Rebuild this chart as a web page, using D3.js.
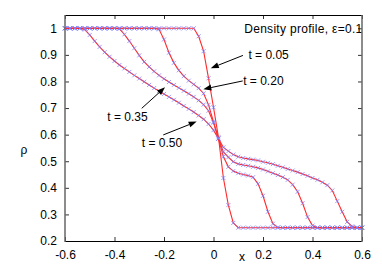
<!DOCTYPE html>
<html>
<head>
<meta charset="utf-8">
<script src="https://cdn.jsdelivr.net/npm/d3@7"></script>
<style>
  body { margin: 0; background: #fff; }
  svg { display: block; font-family: "Liberation Sans", Arial, sans-serif; }
</style>
</head>
<body>
<svg id="chart" width="382" height="267"></svg>
<script>
// mesh points (x) and density at each time
const xGrid = [-0.6, -0.58, -0.56, -0.54, -0.52, -0.5, -0.48, -0.46, -0.44, -0.42,
  -0.4, -0.38, -0.36, -0.34, -0.32, -0.3, -0.28, -0.26, -0.24, -0.22,
  -0.2, -0.18, -0.16, -0.14, -0.12, -0.1, -0.08, -0.06, -0.04, -0.02,
  0, 0.02, 0.04, 0.06, 0.08, 0.1, 0.12, 0.14, 0.16, 0.18,
  0.2, 0.22, 0.24, 0.26, 0.28, 0.3, 0.32, 0.34, 0.36, 0.38,
  0.4, 0.42, 0.44, 0.46, 0.48, 0.5, 0.52, 0.54, 0.56, 0.58, 0.6];

const rho005 = [1, 1, 1, 1, 1, 1, 1, 1, 1, 1,
  1, 1, 1, 1, 1, 1, 1, 1, 1, 1,
  1, 1, 1, 1, 1, 1, 1, 0.97, 0.914, 0.812,
  0.703, 0.59, 0.437, 0.335, 0.268, 0.25, 0.25, 0.25, 0.25, 0.25,
  0.25, 0.25, 0.25, 0.25, 0.25, 0.25, 0.25, 0.25, 0.25, 0.25,
  0.25, 0.25, 0.25, 0.25, 0.25, 0.25, 0.25, 0.25, 0.25, 0.25, 0.25];

const rho020 = [1, 1, 1, 1, 1, 1, 1, 1, 1, 1,
  1, 1, 1, 1, 1, 1, 1, 1, 1, 0.996,
  0.958, 0.908, 0.87, 0.842, 0.82, 0.803, 0.789, 0.775, 0.755, 0.712,
  0.648, 0.585, 0.517, 0.479, 0.463, 0.455, 0.45, 0.446, 0.44, 0.415,
  0.37, 0.31, 0.265, 0.251, 0.25, 0.25, 0.25, 0.25, 0.25, 0.25,
  0.25, 0.25, 0.25, 0.25, 0.25, 0.25, 0.25, 0.25, 0.25, 0.25, 0.25];

const rho035 = [1, 1, 1, 1, 1, 1, 1, 1, 1, 1,
  1, 0.998, 0.977, 0.952, 0.925, 0.898, 0.874, 0.855, 0.838, 0.823,
  0.81, 0.798, 0.787, 0.776, 0.765, 0.754, 0.742, 0.729, 0.713, 0.69,
  0.645, 0.585, 0.535, 0.515, 0.498, 0.49, 0.486, 0.483, 0.479, 0.475,
  0.469, 0.462, 0.455, 0.448, 0.44, 0.43, 0.412, 0.385, 0.342, 0.29,
  0.258, 0.25, 0.25, 0.25, 0.25, 0.25, 0.25, 0.25, 0.25, 0.25, 0.25];

const rho050 = [1, 1, 1, 1, 0.995, 0.975, 0.952, 0.93, 0.91, 0.893,
  0.877, 0.862, 0.849, 0.836, 0.823, 0.811, 0.799, 0.787, 0.775, 0.764,
  0.753, 0.742, 0.731, 0.72, 0.708, 0.697, 0.685, 0.672, 0.658, 0.64,
  0.617, 0.585, 0.552, 0.538, 0.525, 0.517, 0.512, 0.509, 0.506, 0.503,
  0.498, 0.494, 0.489, 0.483, 0.477, 0.471, 0.465, 0.459, 0.452, 0.445,
  0.437, 0.43, 0.421, 0.41, 0.39, 0.35, 0.31, 0.272, 0.255, 0.25, 0.25];

const seriesList = [rho005, rho020, rho035, rho050];
const xTicks = [-0.6, -0.4, -0.2, 0, 0.2, 0.4, 0.6];
const yTicks = [0.2, 0.3, 0.4, 0.5, 0.6, 0.7, 0.8, 0.9, 1];

// label text, label anchor (data units), arrow start -> tip (data units)
const labels = [
  { text: "t = 0.05", lx: 0.141, ly: 0.9,   x1: 0.119,  y1: 0.898, x2: -0.011, y2: 0.85 },
  { text: "t = 0.20", lx: 0.12,  ly: 0.802, x1: 0.118,  y1: 0.802, x2: -0.041, y2: 0.771 },
  { text: "t = 0.35", lx: -0.429, ly: 0.667, x1: -0.29, y1: 0.699, x2: -0.196, y2: 0.778 },
  { text: "t = 0.50", lx: -0.29, ly: 0.567, x1: -0.203, y1: 0.599, x2: -0.068, y2: 0.649 }
];

const svg = d3.select("#chart");
const mLeft = 65, mRight = 362, mTop = 15, mBottom = 241;

const x = d3.scaleLinear().domain([-0.6, 0.6]).range([mLeft, mRight]);
const y = d3.scaleLinear().domain([0.2, 1.05]).range([mBottom, mTop]);

const fmt = d => String(+d.toFixed(1));

// ticks (inward, mirrored)
svg.append("g").attr("transform", `translate(${mLeft},0)`)
  .call(d3.axisLeft(y).tickValues(yTicks).tickFormat(fmt).tickSize(-4).tickPadding(8))
  .call(g => g.select(".domain").remove());
svg.append("g").attr("transform", `translate(${mRight},0)`)
  .call(d3.axisRight(y).tickValues(yTicks).tickFormat("").tickSize(-4))
  .call(g => g.select(".domain").remove());
svg.append("g").attr("transform", `translate(0,${mBottom})`)
  .call(d3.axisBottom(x).tickValues(xTicks).tickFormat(fmt).tickSize(-4).tickPadding(9))
  .call(g => g.select(".domain").remove());
svg.append("g").attr("transform", `translate(0,${mTop})`)
  .call(d3.axisTop(x).tickValues(xTicks).tickFormat("").tickSize(-4))
  .call(g => g.select(".domain").remove());

svg.selectAll(".tick text").attr("font-size", 12).attr("fill", "#000")
  .attr("font-family", "Liberation Sans, Arial, sans-serif");
svg.selectAll(".tick line").attr("stroke", "#333");

// curves
const line = d3.line().x((d, i) => x(xGrid[i])).y(d => y(d));
svg.append("clipPath").attr("id", "clip")
  .append("rect").attr("x", mLeft - 3).attr("y", mTop).attr("width", mRight - mLeft + 6).attr("height", mBottom - mTop);

const plot = svg.append("g").attr("clip-path", "url(#clip)");
seriesList.forEach(s => {
  plot.append("path").datum(s)
    .attr("d", line)
    .attr("fill", "none")
    .attr("stroke", "#ff2a2a")
    .attr("stroke-width", 1.1);
});
seriesList.forEach(s => {
  const crosses = d3.path();
  s.forEach((v, i) => {
    const cx = x(xGrid[i]), cy = y(v);
    crosses.moveTo(cx - 2, cy - 2); crosses.lineTo(cx + 2, cy + 2);
    crosses.moveTo(cx - 2, cy + 2); crosses.lineTo(cx + 2, cy - 2);
  });
  plot.append("path").attr("d", crosses.toString())
    .attr("fill", "none")
    .attr("stroke", "#7b7bff")
    .attr("stroke-opacity", 0.85)
    .attr("stroke-width", 0.9);
});

// title inside plot (runs into the right border, like the original)
svg.append("text")
  .attr("x", x(0.124)).attr("y", y(0.997))
  .attr("dominant-baseline", "central")
  .attr("font-size", 12)
  .attr("letter-spacing", 0.3)
  .text("Density profile, \u03b5=0.1");

// annotations
labels.forEach(a => {
  svg.append("text")
    .attr("x", x(a.lx)).attr("y", y(a.ly))
    .attr("dominant-baseline", "central")
    .attr("font-size", 12)
    .text(a.text);
  const x1 = x(a.x1), y1 = y(a.y1), x2 = x(a.x2), y2 = y(a.y2);
  const ang = Math.atan2(y2 - y1, x2 - x1);
  const hl = 8, hw = 3;
  const bx = x2 - hl * Math.cos(ang), by = y2 - hl * Math.sin(ang);
  svg.append("line")
    .attr("x1", x1).attr("y1", y1).attr("x2", bx).attr("y2", by)
    .attr("stroke", "#000").attr("stroke-width", 1);
  svg.append("path")
    .attr("d", `M${x2},${y2}L${bx - hw * Math.sin(ang)},${by + hw * Math.cos(ang)}L${bx + hw * Math.sin(ang)},${by - hw * Math.cos(ang)}Z`)
    .attr("fill", "#000");
});

// frame: top/bottom crisp black, sides soft grey
svg.append("line").attr("x1", mLeft).attr("x2", mRight).attr("y1", mTop + 0.5).attr("y2", mTop + 0.5)
  .attr("stroke", "#000");
svg.append("line").attr("x1", mLeft).attr("x2", mRight).attr("y1", mBottom + 0.5).attr("y2", mBottom + 0.5)
  .attr("stroke", "#000");
svg.append("line").attr("x1", mLeft).attr("x2", mLeft).attr("y1", mTop).attr("y2", mBottom + 1)
  .attr("stroke", "#666").attr("stroke-width", 1.5);
svg.append("line").attr("x1", mRight).attr("x2", mRight).attr("y1", mTop).attr("y2", mBottom + 1)
  .attr("stroke", "#666").attr("stroke-width", 1.5);

// axis labels
svg.append("text").attr("x", 24).attr("y", 150)
  .attr("text-anchor", "middle").attr("dominant-baseline", "central")
  .attr("font-size", 12).text("\u03c1");
svg.append("text").attr("x", x(0.115)).attr("y", 257)
  .attr("text-anchor", "middle").attr("dominant-baseline", "central")
  .attr("font-size", 12).text("x");
</script>
</body>
</html>
